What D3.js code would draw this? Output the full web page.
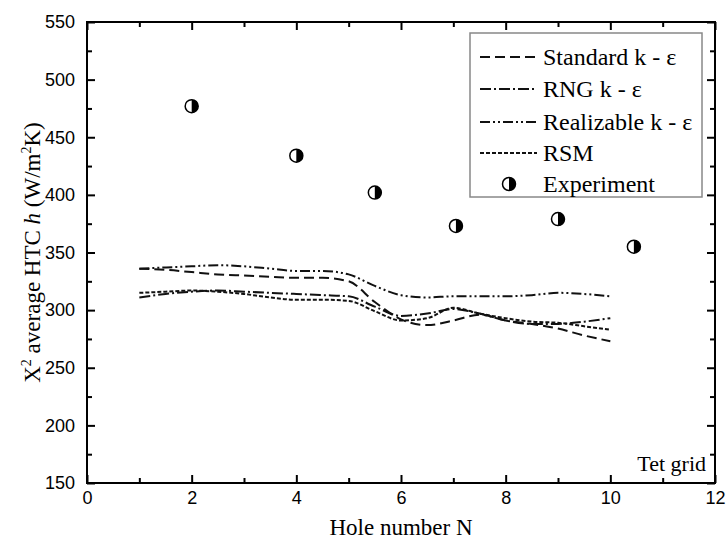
<!DOCTYPE html>
<html>
<head>
<meta charset="utf-8">
<script src="https://cdn.jsdelivr.net/npm/d3@7"></script>
<style>
  body { margin: 0; background: #fff; }
</style>
</head>
<body>
<svg id="chart"></svg>
<script>
// chart data
var lineX = [1, 1.5, 2, 2.5, 3, 3.5, 4, 4.5, 5, 5.5, 6, 6.5, 7, 7.5, 8, 8.5, 9, 9.5, 10];
var standardKE = [336, 335, 333, 331, 330, 329, 328, 328, 325, 307, 292, 287, 291, 296, 291, 288, 284, 278, 273];
var rngKE = [311, 314, 316, 317, 316, 315, 314, 313, 312, 303, 295, 297, 301, 297, 291, 288, 288, 290, 293];
var realizableKE = [336, 337, 338, 339, 338, 336, 334, 334, 331, 321, 313, 311, 312, 312, 312, 313, 315, 314, 312];
var rsm = [315, 316, 317, 316, 314, 311, 309, 309, 308, 299, 291, 293, 302, 297, 293, 290, 289, 286, 283];
var expX = [2, 4, 5.5, 7.05, 9, 10.45];
var expY = [477, 434, 402, 373, 379, 355];
var legendLabels = ['Standard k - \u03b5', 'RNG k - \u03b5', 'Realizable k - \u03b5', 'RSM', 'Experiment'];
var xTicks = [0, 2, 4, 6, 8, 10, 12];
var yTicks = [150, 200, 250, 300, 350, 400, 450, 500, 550];

// plot box (window.top is read-only, so no plain "top")
var width = 727,
	height = 541,
	plotLeft = 87, plotRight = 715, plotTop = 22, plotBottom = 483;

var svg = d3.select('#chart')
	.attr('width', width)
	.attr('height', height);

var x = d3.scaleLinear().domain([0, 12]).range([plotLeft, plotRight]);
var y = d3.scaleLinear().domain([150, 550]).range([plotBottom, plotTop]);

var serif = '"Liberation Serif", "Times New Roman", serif',
	sans = '"Liberation Sans", Arial, sans-serif';

// series with their dash styles
var series = [
	{ values: standardKE, dash: '10,5' },
	{ values: rngKE, dash: '11,3,2,3' },
	{ values: realizableKE, dash: '10,3,2,3,2,3' },
	{ values: rsm, dash: '4,2' }
];

var line = d3.line()
	.x(function(d) { return x(d[0]); })
	.y(function(d) { return y(d[1]); })
	.curve(d3.curveMonotoneX);

svg.append('g').selectAll('path')
	.data(series)
	.enter().append('path')
		.attr('fill', 'none')
		.attr('stroke', '#111')
		.attr('stroke-width', 2)
		.attr('stroke-dasharray', function(d) { return d.dash; })
		.attr('d', function(d) {
			return line(d.values.map(function(v, i) { return [lineX[i], v]; }));
		});

// half filled markers
function marker(g, r) {
	g.append('circle').attr('r', r).attr('fill', '#fff').attr('stroke', '#000').attr('stroke-width', 1.5);
	g.append('path')
		.attr('d', 'M0,' + (-r) + ' A' + r + ',' + r + ' 0 0 1 0,' + r + ' Z')
		.attr('fill', '#000');
}

svg.append('g').selectAll('g')
	.data(expX)
	.enter().append('g')
		.attr('transform', function(d, i) { return 'translate(' + x(d) + ',' + y(expY[i]) + ')'; })
		.each(function() { marker(d3.select(this), 6.5); });

// axes, ticks point inward
var axisG = svg.append('g');
axisG.append('rect')
	.attr('x', plotLeft).attr('y', plotTop)
	.attr('width', plotRight - plotLeft).attr('height', plotBottom - plotTop)
	.attr('fill', 'none').attr('stroke', '#000').attr('stroke-width', 2);

function ticks(sel, axis, len, pad) {
	sel.call(axis.tickSize(len).tickPadding(pad));
	sel.select('.domain').remove();
	sel.selectAll('line').attr('stroke', '#000').attr('stroke-width', 2);
	sel.selectAll('text').attr('font-family', sans).attr('font-size', 18).attr('fill', '#000');
}

ticks(axisG.append('g').attr('transform', 'translate(0,' + plotBottom + ')'),
	d3.axisBottom(x).tickValues(xTicks).tickFormat(d3.format('d')), -8, 8);
ticks(axisG.append('g').attr('transform', 'translate(0,' + plotBottom + ')'),
	d3.axisBottom(x).tickValues(d3.range(1, 12, 2)).tickFormat(''), -5, 6);
ticks(axisG.append('g').attr('transform', 'translate(0,' + plotTop + ')'),
	d3.axisTop(x).tickValues(xTicks).tickFormat(''), -8, 6);
ticks(axisG.append('g').attr('transform', 'translate(0,' + plotTop + ')'),
	d3.axisTop(x).tickValues(d3.range(1, 12, 2)).tickFormat(''), -5, 6);
ticks(axisG.append('g').attr('transform', 'translate(' + plotLeft + ',0)'),
	d3.axisLeft(y).tickValues(yTicks).tickFormat(d3.format('d')), -8, 12);
ticks(axisG.append('g').attr('transform', 'translate(' + plotLeft + ',0)'),
	d3.axisLeft(y).tickValues(d3.range(175, 550, 50)).tickFormat(''), -5, 6);
ticks(axisG.append('g').attr('transform', 'translate(' + plotRight + ',0)'),
	d3.axisRight(y).tickValues(yTicks).tickFormat(''), -8, 6);
ticks(axisG.append('g').attr('transform', 'translate(' + plotRight + ',0)'),
	d3.axisRight(y).tickValues(d3.range(175, 550, 50)).tickFormat(''), -5, 6);

// axis titles
svg.append('text')
	.attr('x', (plotLeft + plotRight) / 2).attr('y', 535)
	.attr('text-anchor', 'middle')
	.attr('font-family', serif).attr('font-size', 23)
	.text('Hole number N');

var yTitle = svg.append('text')
	.attr('transform', 'translate(40,' + ((plotTop + plotBottom) / 2) + ') rotate(-90)')
	.attr('text-anchor', 'middle')
	.attr('font-family', serif).attr('font-size', 23);
yTitle.append('tspan').text('X');
yTitle.append('tspan').attr('font-size', 14).attr('dy', -9).text('2');
yTitle.append('tspan').attr('dy', 9).text(' average HTC ');
yTitle.append('tspan').attr('font-style', 'italic').text('h');
yTitle.append('tspan').text(' (W/m');
yTitle.append('tspan').attr('font-size', 14).attr('dy', -9).text('2');
yTitle.append('tspan').attr('dy', 9).text('K)');

// Tet grid note
svg.append('text')
	.attr('x', 706).attr('y', 471)
	.attr('text-anchor', 'end')
	.attr('font-family', serif).attr('font-size', 22)
	.text('Tet grid');

// legend
var legend = svg.append('g');
legend.append('rect')
	.attr('x', 470).attr('y', 33)
	.attr('width', 232).attr('height', 164)
	.attr('fill', '#fff').attr('stroke', '#888').attr('stroke-width', 1.5);

var rowY = [57, 89, 122, 153, 184];
legendLabels.forEach(function(label, i) {
	var ry = rowY[i];
	if (i < series.length) {
		legend.append('line')
			.attr('x1', 480).attr('x2', 537)
			.attr('y1', ry).attr('y2', ry)
			.attr('stroke', '#111').attr('stroke-width', 2)
			.attr('stroke-dasharray', series[i].dash);
	} else {
		marker(legend.append('g').attr('transform', 'translate(509,' + ry + ')'), 6.5);
	}
	legend.append('text')
		.attr('x', 543).attr('y', ry + 8)
		.attr('font-family', serif).attr('font-size', 24)
		.text(label);
});
</script>
</body>
</html>
